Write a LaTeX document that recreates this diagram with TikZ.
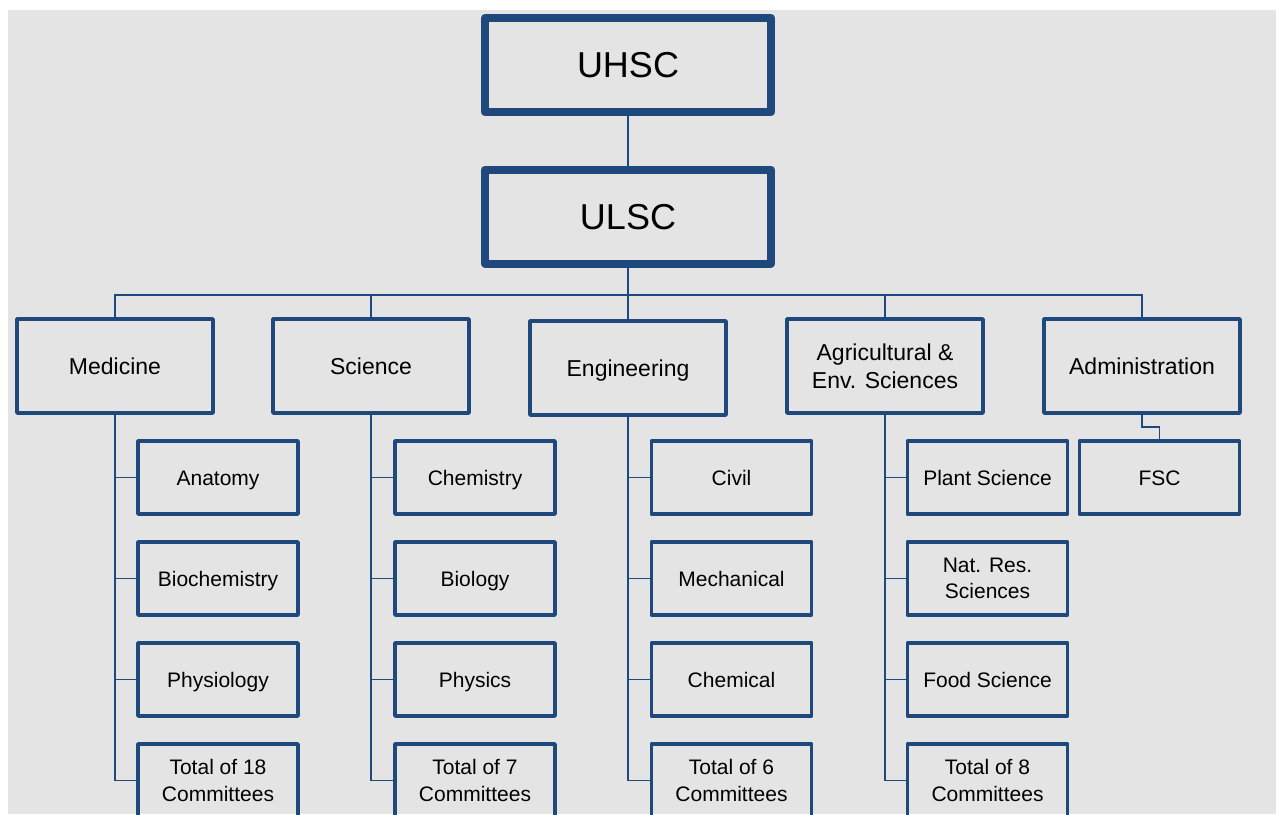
\documentclass[tikz,border=0pt]{standalone}
\usepackage{fontspec}
\setmainfont{Liberation Sans}
\definecolor{navy}{RGB}{31,73,125}
\definecolor{bg}{RGB}{228,228,228}
\begin{document}
\begin{tikzpicture}[x=1pt,y=-1pt,
  every node/.style={inner sep=0pt, align=center, text=black},
  topbox/.style={draw=navy, line width=8pt, line join=round, minimum width=286pt, minimum height=94pt, font=\fontsize{36}{43}\selectfont, text height=25.9pt, text depth=0pt},
  midbox/.style={draw=navy, line width=3.5pt, line join=round, minimum width=196pt, minimum height=94pt, font=\fontsize{23}{28}\selectfont},
  subbox/.style={draw=navy, line width=3.5pt, line join=round, minimum width=160pt, minimum height=73pt, font=\fontsize{21}{26.5}\selectfont},
  slm/.style={text height=16.5pt, text depth=0pt},
  sls/.style={text height=15.1pt, text depth=0pt},
  link/.style={draw=navy, line width=1.8pt}]
\useasboundingbox (0,0) rectangle (1276,814);
\clip (0,0) rectangle (1276,814);
\fill[bg] (8,10) rectangle (1276,814);

\node[topbox] (uhsc) at (628,65) {UHSC};
\node[topbox] (ulsc) at (628,216.5) {ULSC};

\node[midbox,slm] (med) at (115,366) {Medicine};
\node[midbox,slm] (sci) at (371,366) {Science};
\node[midbox,slm] (eng) at (628,368) {Engineering};
\node[midbox] (agr) at (885,366) {Agricultural \&\\Env. Sciences};
\node[midbox,slm] (adm) at (1142,366) {Administration};

\node[subbox,sls] (m1) at (218,477.5) {Anatomy};
\node[subbox,sls] (m2) at (218,578.5) {Biochemistry};
\node[subbox,sls] (m3) at (218,679.5) {Physiology};
\node[subbox] (m4) at (218,780.5) {Total of 18\\Committees};

\node[subbox,sls] (s1) at (475,477.5) {Chemistry};
\node[subbox,sls] (s2) at (475,578.5) {Biology};
\node[subbox,sls] (s3) at (475,679.5) {Physics};
\node[subbox] (s4) at (475,780.5) {Total of 7\\Committees};

\node[subbox,sls] (e1) at (731.5,477.5) {Civil};
\node[subbox,sls] (e2) at (731.5,578.5) {Mechanical};
\node[subbox,sls] (e3) at (731.5,679.5) {Chemical};
\node[subbox] (e4) at (731.5,780.5) {Total of 6\\Committees};

\node[subbox,sls] (a1) at (987.5,477.5) {Plant Science};
\node[subbox] (a2) at (987.5,578.5) {Nat. Res.\\Sciences};
\node[subbox,sls] (a3) at (987.5,679.5) {Food Science};
\node[subbox] (a4) at (987.5,780.5) {Total of 8\\Committees};

\node[subbox,sls] (fsc) at (1159.5,477.5) {FSC};

\coordinate (bar) at (628,295);
\draw[link] (uhsc.south) -- (ulsc.north);
\draw[link] (ulsc.south) -- (eng.north);
\draw[link] (med.north) -- (med.north |- bar) -- (adm.north |- bar) -- (adm.north);
\draw[link] (sci.north) -- (sci.north |- bar);
\draw[link] (agr.north) -- (agr.north |- bar);

\foreach \p/\c in {med/m,sci/s,eng/e,agr/a}{
  \draw[link] (\p.south) |- (\c4.west);
  \draw[link] (\p.south |- \c1.west) -- (\c1.west);
  \draw[link] (\p.south |- \c2.west) -- (\c2.west);
  \draw[link] (\p.south |- \c3.west) -- (\c3.west);
}
\coordinate (fk) at (1142,427);
\draw[link] (adm.south) -- (fk) -- (fk -| fsc.north) -- (fsc.north);
\end{tikzpicture}
\end{document}
